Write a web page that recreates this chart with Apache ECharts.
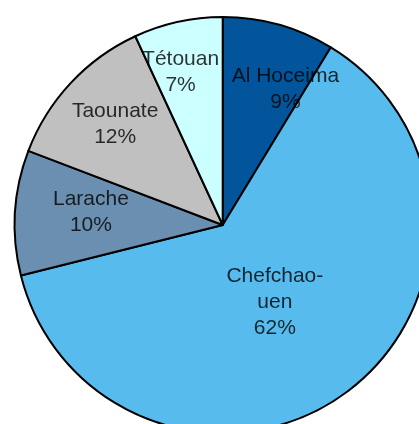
<!DOCTYPE html>
<html>
<head>
<meta charset="utf-8">
<script src="https://cdn.jsdelivr.net/npm/echarts@6/dist/echarts.min.js"></script>
<style>
  html, body { margin: 0; padding: 0; background: #fff; }
  #chart { width: 419px; height: 424px; }
</style>
</head>
<body>
<div id="chart"></div>
<script>
// regions, clockwise from 12 o'clock
var categories = ['Al Hoceima', 'Chefchao-\nuen', 'Larache', 'Taounate', 'Tétouan'];
var shares = [8.7, 62.4, 9.7, 12.3, 6.9];
var colors = ['#02559a', '#58bbed', '#6a8fb0', '#c0c0c0', '#ccffff'];
// where each label sits: distance from centre and small nudge (style only)
var labelRadius = [147, 93, 129, 143, 154];
var labelOffsets = [[23, 6], [-3, 2], [-3, -5], [-3, -3], [-9, -2]];

var chart = echarts.init(document.getElementById('chart'));

var total = 0;
for (var i = 0; i < shares.length; i++) total += shares[i];

var sliceData = [], labelData = [], acc = 0;
for (var i = 0; i < categories.length; i++) {
    sliceData.push({
        name: categories[i],
        value: shares[i],
        itemStyle: { color: colors[i] }
    });
    // label sits on the slice's mid angle (angle axis runs 0..total)
    labelData.push({
        name: categories[i],
        value: [labelRadius[i], acc + shares[i] / 2],
        pct: Math.round(shares[i] / total * 100),
        label: { offset: labelOffsets[i] }
    });
    acc += shares[i];
}

chart.setOption({
    animation: false,
    polar: { center: [222.7, 225], radius: 208 },
    radiusAxis: {
        type: 'value', min: 0, max: 208, show: false,
        axisLine: { show: false }, axisTick: { show: false },
        axisLabel: { show: false }, splitLine: { show: false }
    },
    angleAxis: {
        type: 'value', min: 0, max: total, startAngle: 90, clockwise: true, show: false,
        axisLine: { show: false }, axisTick: { show: false },
        axisLabel: { show: false }, splitLine: { show: false }
    },
    series: [
        {
            type: 'pie',
            center: [222.7, 225],
            radius: [0, 208],
            startAngle: 90,
            clockwise: true,
            silent: true,
            itemStyle: { borderColor: '#000', borderWidth: 2 },
            label: { show: false },
            labelLine: { show: false },
            emphasis: { disabled: true },
            data: sliceData
        },
        {
            type: 'scatter',
            coordinateSystem: 'polar',
            symbolSize: 1,
            itemStyle: { color: 'rgba(0,0,0,0)' },
            silent: true,
            z: 5,
            label: {
                show: true,
                position: 'inside',
                color: '#000',
                textBorderWidth: 0,
                fontFamily: 'Liberation Sans, Arial, sans-serif',
                fontSize: 21,
                lineHeight: 26,
                align: 'center',
                verticalAlign: 'middle',
                formatter: function (p) {
                    return p.name + '\n' + p.data.pct + '%';
                }
            },
            emphasis: { disabled: true },
            data: labelData
        }
    ]
});
</script>
</body>
</html>
